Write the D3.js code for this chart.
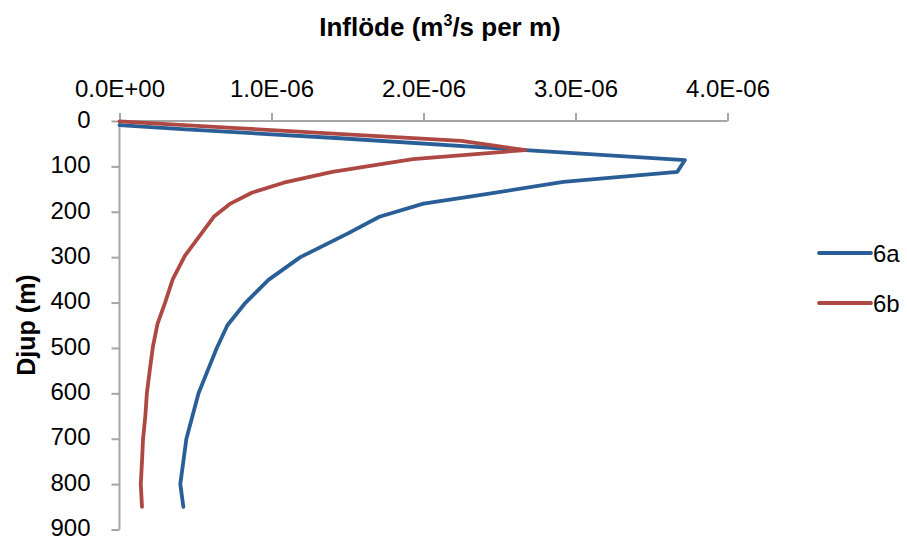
<!DOCTYPE html>
<html>
<head>
<meta charset="utf-8">
<script src="https://cdn.jsdelivr.net/npm/d3@7"></script>
<style>
  html, body { margin: 0; padding: 0; background: #ffffff; }
  svg { display: block; }
  text { font-family: "Liberation Sans", Arial, sans-serif; fill: #000; }
</style>
</head>
<body>
<svg id="chart" width="907" height="541"></svg>
<script>
// ---- data ----
const seriesNames = ["6a", "6b"];
const depth6a = [9, 18, 38, 64, 86, 112, 134, 163, 182, 211, 248, 300, 350, 400, 450, 500, 550, 600, 650, 700, 750, 800, 850];
const flow6a  = [0.0e-6, 0.41e-6, 1.45e-6, 2.67e-6, 3.72e-6, 3.67e-6, 2.92e-6, 2.38e-6, 2.0e-6, 1.71e-6, 1.50e-6, 1.19e-6, 0.98e-6, 0.83e-6, 0.71e-6, 0.64e-6, 0.58e-6, 0.52e-6, 0.48e-6, 0.44e-6, 0.42e-6, 0.40e-6, 0.42e-6];
const depth6b = [1, 3, 15, 44, 64, 84, 112, 136, 158, 182, 211, 297, 349, 400, 447, 497, 547, 600, 650, 700, 750, 800, 850];
const flow6b  = [0.0e-6, 0.11e-6, 0.74e-6, 2.25e-6, 2.67e-6, 1.93e-6, 1.40e-6, 1.08e-6, 0.87e-6, 0.73e-6, 0.62e-6, 0.43e-6, 0.35e-6, 0.30e-6, 0.25e-6, 0.22e-6, 0.20e-6, 0.18e-6, 0.17e-6, 0.155e-6, 0.148e-6, 0.14e-6, 0.148e-6];
const xTickValues = [0, 1e-6, 2e-6, 3e-6, 4e-6];
const xTickLabels = ["0.0E+00", "1.0E-06", "2.0E-06", "3.0E-06", "4.0E-06"];
const yTickValues = [0, 100, 200, 300, 400, 500, 600, 700, 800, 900];
const yTickLabels = ["0", "100", "200", "300", "400", "500", "600", "700", "800", "900"];
const xTitle = "Inflöde (m";
const yTitle = "Djup (m)";
const colors = ["#2A5E96", "#AD4842"];

// ---- layout ----
const svg = d3.select("#chart");
const x = d3.scaleLinear().domain([0, 4e-6]).range([119.5, 727.5]);
const y = d3.scaleLinear().domain([0, 900]).range([121, 529.5]);
const axisColor = "#a6a6a6";
const fam = '"Liberation Sans", Arial, sans-serif';

// X axis (top)
const xAxis = d3.axisTop(x).tickValues(xTickValues)
  .tickFormat((d, i) => xTickLabels[i]).tickSize(8).tickPadding(16);
const gx = svg.append("g").attr("transform", `translate(0,${y(0)})`).call(xAxis);
gx.select(".domain").attr("stroke", axisColor).attr("stroke-width", 2)
  .attr("d", `M${x(0)},0H${x(4e-6)}`);
gx.selectAll(".tick line").attr("stroke", axisColor).attr("stroke-width", 2);
gx.selectAll(".tick text").attr("font-size", 24).style("font-family", fam).attr("fill", "#000");

// Y axis (left)
const yAxis = d3.axisLeft(y).tickValues(yTickValues)
  .tickFormat((d, i) => yTickLabels[i]).tickSize(8).tickPadding(21);
const gy = svg.append("g").attr("transform", `translate(${x(0)},0)`).call(yAxis);
gy.select(".domain").attr("stroke", axisColor).attr("stroke-width", 2)
  .attr("d", `M0,${y(0)}V${y(900)}`);
gy.selectAll(".tick line").attr("stroke", axisColor).attr("stroke-width", 2);
gy.selectAll(".tick text").attr("font-size", 24).attr("dy", "0.26em")
  .style("font-family", fam).attr("fill", "#000");

// Lines
const series = [
  { name: seriesNames[0], d: depth6a, v: flow6a, c: colors[0] },
  { name: seriesNames[1], d: depth6b, v: flow6b, c: colors[1] }
];
const line = d3.line().x(p => x(p[0])).y(p => y(p[1]));
series.forEach(s => {
  const pts = s.v.map((v, i) => [v, s.d[i]]);
  svg.append("path").datum(pts).attr("d", line)
    .attr("fill", "none").attr("stroke", s.c).attr("stroke-width", 3.8)
    .attr("stroke-linejoin", "round").attr("stroke-linecap", "round");
});

// Titles
const t = svg.append("text").attr("x", 440).attr("y", 36)
  .attr("text-anchor", "middle").attr("font-size", 26).attr("font-weight", "bold");
t.append("tspan").text(xTitle);
t.append("tspan").text("3").attr("font-size", 16).attr("dy", -10);
t.append("tspan").text("/s per m)").attr("dy", 10);

svg.append("text").attr("transform", "translate(35,325) rotate(-90)")
  .attr("text-anchor", "middle").attr("font-size", 25).attr("font-weight", "bold")
  .text(yTitle);

// Legend
series.forEach((s, i) => {
  const ly = 253 + i * 50;
  svg.append("line").attr("x1", 819).attr("x2", 871).attr("y1", ly).attr("y2", ly)
    .attr("stroke", s.c).attr("stroke-width", 3.8).attr("stroke-linecap", "round");
  svg.append("text").attr("x", 873).attr("y", ly + 8.5).attr("font-size", 24).text(s.name);
});
</script>
</body>
</html>
